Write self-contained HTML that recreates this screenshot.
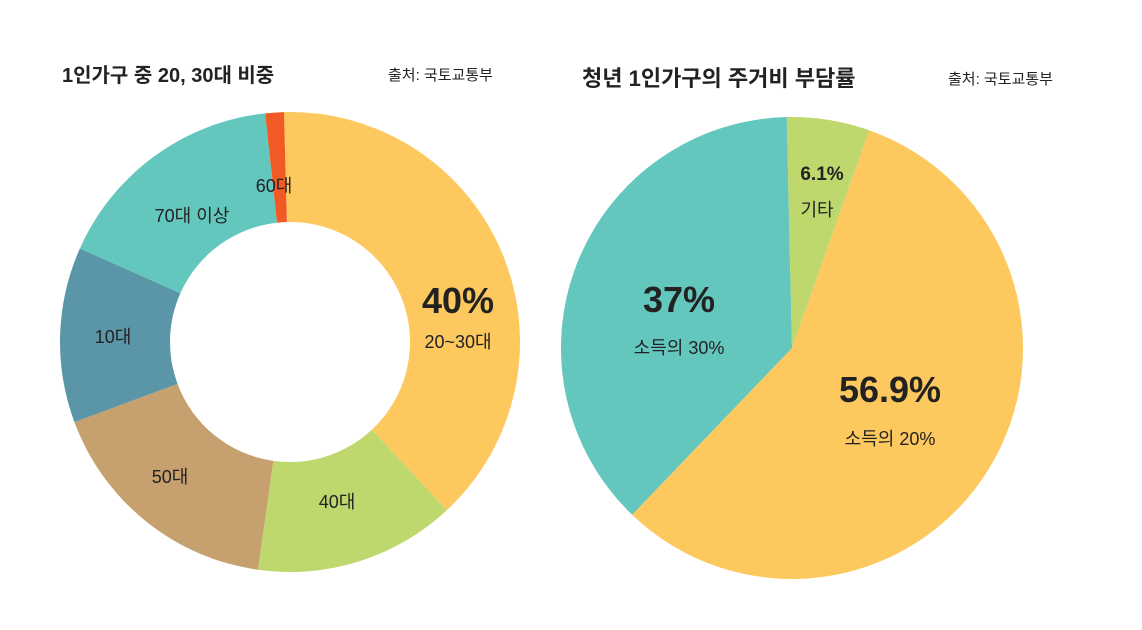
<!DOCTYPE html>
<html><head><meta charset="utf-8"><style>
body{margin:0;background:#fff;}
svg text{font-family:"Liberation Sans","Noto Sans CJK KR",sans-serif;fill:#222;}
</style></head><body>
<svg width="1142" height="625" viewBox="0 0 1142 625" xmlns="http://www.w3.org/2000/svg">
<g id="d"></g>
<text x="62" y="82" font-size="20" font-weight="bold">1인가구 중 20, 30대 비중</text>
<text x="388" y="80" font-size="15">출처: 국토교통부</text>
<text x="582" y="86" font-size="22" font-weight="bold">청년 1인가구의 주거비 부담률</text>
<text x="948" y="84" font-size="15">출처: 국토교통부</text>
</svg>
<script>
var s=document.getElementById('d'),NS="http://www.w3.org/2000/svg";
function pt(cx,cy,r,a){a=a*Math.PI/180;return [cx+r*Math.sin(a),cy-r*Math.cos(a)];}
function seg(cx,cy,R,r,a0,a1,c){
 var p=document.createElementNS(NS,'path'),l=(a1-a0)>180?1:0;
 var A=pt(cx,cy,R,a0),B=pt(cx,cy,R,a1),d='M'+A+' A'+R+' '+R+' 0 '+l+' 1 '+B;
 if(r>0){var C=pt(cx,cy,r,a1),D=pt(cx,cy,r,a0);d+=' L'+C+' A'+r+' '+r+' 0 '+l+' 0 '+D+' Z';}
 else d+=' L'+cx+' '+cy+' Z';
 p.setAttribute('d',d);p.setAttribute('fill',c);s.appendChild(p);}
var cx=290,cy=342,R=230,r=120;
seg(cx,cy,R,r,-1.5,137,'#FDC85E');
seg(cx,cy,R,r,137,188,'#BFD86E');
seg(cx,cy,R,r,188,249.6,'#C6A06E');
seg(cx,cy,R,r,249.6,294,'#5A96A8');
seg(cx,cy,R,r,294,353.8,'#64C7BE');
seg(cx,cy,R,r,353.8,358.5,'#F15A24');
var px=792,py=348,PR=231;
seg(px,py,PR,0,19.5,223.8,'#FDC85E');
seg(px,py,PR,0,223.8,358.7,'#64C7BE');
seg(px,py,PR,0,-1.3,19.5,'#BFD86E');
function t(x,y,sz,txt,w){var e=document.createElementNS(NS,'text');e.setAttribute('x',x);e.setAttribute('y',y);e.setAttribute('font-size',sz);e.setAttribute('text-anchor','middle');if(w)e.setAttribute('font-weight','600');e.textContent=txt;s.appendChild(e);}
t(458,313,36,'40%',1);t(458,348,18,'20~30대');
t(274,192,18,'60대');t(192,222,18,'70대 이상');t(113,343,18,'10대');
t(170,483,18,'50대');t(337,508,18,'40대');
t(679,312,36,'37%',1);t(679,354,18,'소득의 30%');
t(890,402,36,'56.9%',1);t(890,445,18,'소득의 20%');
t(822,180,19,'6.1%',1);t(817,216,18,'기타');
</script>
</body></html>
